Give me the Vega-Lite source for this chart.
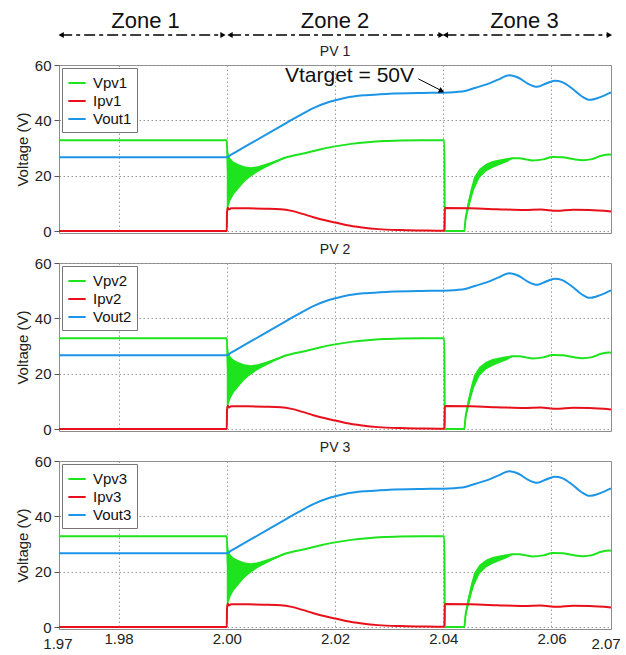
{
  "$schema": "https://vega.github.io/schema/vega-lite/v6.json",
  "padding": {"left": 14, "top": 0, "right": 8, "bottom": 2},
  "bounds": "flush",
  "spacing": 30,
  "config": {
    "font": "Liberation Sans",
    "view": {"stroke": "#8c8c8c", "strokeWidth": 1},
    "axis": {"labelFont": "Liberation Sans", "labelFontSize": 15, "labelColor": "#222", "titleFont": "Liberation Sans", "titleFontSize": 15, "titleFontWeight": "normal", "titleColor": "#222", "gridColor": "#9a9a9a", "gridDash": [1.5, 2.5], "gridWidth": 1, "domain": false},
    "title": {"fontSize": 14, "fontWeight": "normal", "font": "Liberation Sans", "color": "#222", "offset": -1, "frame": "group"},
    "legend": {"orient": "top-left", "offset": 3, "symbolType": "stroke", "symbolSize": 300, "symbolStrokeWidth": 2, "labelFontSize": 15, "labelFont": "Liberation Sans", "labelColor": "#111", "rowPadding": 0, "padding": 5, "strokeColor": "#777", "fillColor": "white", "labelOffset": 6, "cornerRadius": 0}
  },
  "resolve": {"scale": {"x": "independent", "y": "independent", "color": "independent"}, "legend": {"color": "independent"}},
  "datasets": {
    "zones": [
      {"zone": "Zone 1", "mid": 1.985, "start": 1.9694, "end": 1.9993},
      {"zone": "Zone 2", "mid": 2.020, "start": 2.0006, "end": 2.0396},
      {"zone": "Zone 3", "mid": 2.055, "start": 2.0404, "end": 2.0707}
    ],
    "band": [
      {"seg": "a", "t": 2.0000, "lo": 7.5, "hi": 32.8},
      {"seg": "a", "t": 2.0003, "lo": 8.7, "hi": 28.0},
      {"seg": "a", "t": 2.0007, "lo": 11.0, "hi": 26.1},
      {"seg": "a", "t": 2.0013, "lo": 13.2, "hi": 25.0},
      {"seg": "a", "t": 2.0020, "lo": 14.8, "hi": 24.3},
      {"seg": "a", "t": 2.0032, "lo": 17.6, "hi": 23.4},
      {"seg": "a", "t": 2.0044, "lo": 19.6, "hi": 23.1},
      {"seg": "a", "t": 2.0057, "lo": 21.3, "hi": 23.4},
      {"seg": "a", "t": 2.0069, "lo": 22.6, "hi": 24.1},
      {"seg": "a", "t": 2.0081, "lo": 23.8, "hi": 24.9},
      {"seg": "a", "t": 2.0094, "lo": 25.0, "hi": 25.8},
      {"seg": "a", "t": 2.0106, "lo": 26.1, "hi": 26.7},
      {"seg": "a", "t": 2.0120, "lo": 27.0, "hi": 27.2},
      {"seg": "b", "t": 2.0439, "lo": 0.0, "hi": 0.6},
      {"seg": "b", "t": 2.0441, "lo": 2.9, "hi": 5.1},
      {"seg": "b", "t": 2.0445, "lo": 6.3, "hi": 9.9},
      {"seg": "b", "t": 2.0451, "lo": 10.9, "hi": 15.3},
      {"seg": "b", "t": 2.0457, "lo": 14.9, "hi": 19.5},
      {"seg": "b", "t": 2.0467, "lo": 19.2, "hi": 22.5},
      {"seg": "b", "t": 2.0479, "lo": 21.5, "hi": 24.3},
      {"seg": "b", "t": 2.0491, "lo": 22.8, "hi": 25.3},
      {"seg": "b", "t": 2.0504, "lo": 23.9, "hi": 25.9},
      {"seg": "b", "t": 2.0516, "lo": 24.8, "hi": 26.3},
      {"seg": "b", "t": 2.0528, "lo": 26.0, "hi": 26.5},
      {"seg": "b", "t": 2.0533, "lo": 26.3, "hi": 26.4}
    ],
    "curves": [
      {"s": "Vpv", "t": 1.969, "v": 32.8},
      {"s": "Vpv", "t": 2.0000, "v": 32.8},
      {"s": "Vpv", "t": 2.0003, "v": 18.4},
      {"s": "Vpv", "t": 2.0007, "v": 18.6},
      {"s": "Vpv", "t": 2.0013, "v": 19.1},
      {"s": "Vpv", "t": 2.0020, "v": 19.6},
      {"s": "Vpv", "t": 2.0032, "v": 20.5},
      {"s": "Vpv", "t": 2.0044, "v": 21.4},
      {"s": "Vpv", "t": 2.0057, "v": 22.4},
      {"s": "Vpv", "t": 2.0069, "v": 23.4},
      {"s": "Vpv", "t": 2.0081, "v": 24.4},
      {"s": "Vpv", "t": 2.0094, "v": 25.4},
      {"s": "Vpv", "t": 2.0106, "v": 26.4},
      {"s": "Vpv", "t": 2.0120, "v": 27.1},
      {"s": "Vpv", "t": 2.0144, "v": 28.1},
      {"s": "Vpv", "t": 2.0170, "v": 29.4},
      {"s": "Vpv", "t": 2.0200, "v": 30.6},
      {"s": "Vpv", "t": 2.0230, "v": 31.5},
      {"s": "Vpv", "t": 2.0260, "v": 32.1},
      {"s": "Vpv", "t": 2.0290, "v": 32.5},
      {"s": "Vpv", "t": 2.0320, "v": 32.7},
      {"s": "Vpv", "t": 2.0360, "v": 32.8},
      {"s": "Vpv", "t": 2.0402, "v": 32.8},
      {"s": "Vpv", "t": 2.0403, "v": 0.0},
      {"s": "Vpv", "t": 2.0439, "v": 0.0},
      {"s": "Vpv", "t": 2.0441, "v": 4.0},
      {"s": "Vpv", "t": 2.0445, "v": 8.1},
      {"s": "Vpv", "t": 2.0451, "v": 13.1},
      {"s": "Vpv", "t": 2.0457, "v": 17.2},
      {"s": "Vpv", "t": 2.0467, "v": 20.9},
      {"s": "Vpv", "t": 2.0479, "v": 22.9},
      {"s": "Vpv", "t": 2.0491, "v": 24.1},
      {"s": "Vpv", "t": 2.0504, "v": 25.0},
      {"s": "Vpv", "t": 2.0516, "v": 25.6},
      {"s": "Vpv", "t": 2.0528, "v": 26.3},
      {"s": "Vpv", "t": 2.0541, "v": 26.3},
      {"s": "Vpv", "t": 2.0553, "v": 25.9},
      {"s": "Vpv", "t": 2.0565, "v": 25.5},
      {"s": "Vpv", "t": 2.0585, "v": 25.9},
      {"s": "Vpv", "t": 2.0602, "v": 26.8},
      {"s": "Vpv", "t": 2.0620, "v": 26.7},
      {"s": "Vpv", "t": 2.0640, "v": 26.0},
      {"s": "Vpv", "t": 2.0657, "v": 25.6},
      {"s": "Vpv", "t": 2.0675, "v": 26.0},
      {"s": "Vpv", "t": 2.0692, "v": 27.2},
      {"s": "Vpv", "t": 2.0707, "v": 27.7},
      {"s": "Vpv", "t": 2.0710, "v": 27.6},
      {"s": "Ipv", "t": 1.969, "v": 0.0},
      {"s": "Ipv", "t": 2.0000, "v": 0.0},
      {"s": "Ipv", "t": 2.00005, "v": 7.0},
      {"s": "Ipv", "t": 2.0002, "v": 8.4},
      {"s": "Ipv", "t": 2.0004, "v": 7.8},
      {"s": "Ipv", "t": 2.0008, "v": 8.2},
      {"s": "Ipv", "t": 2.0040, "v": 8.2},
      {"s": "Ipv", "t": 2.0070, "v": 8.1},
      {"s": "Ipv", "t": 2.0100, "v": 7.9},
      {"s": "Ipv", "t": 2.0120, "v": 7.3},
      {"s": "Ipv", "t": 2.0140, "v": 6.2},
      {"s": "Ipv", "t": 2.0160, "v": 5.0},
      {"s": "Ipv", "t": 2.0180, "v": 4.0},
      {"s": "Ipv", "t": 2.0200, "v": 3.1},
      {"s": "Ipv", "t": 2.0220, "v": 2.2},
      {"s": "Ipv", "t": 2.0250, "v": 1.3},
      {"s": "Ipv", "t": 2.0280, "v": 0.7},
      {"s": "Ipv", "t": 2.0320, "v": 0.35},
      {"s": "Ipv", "t": 2.0360, "v": 0.2},
      {"s": "Ipv", "t": 2.0402, "v": 0.1},
      {"s": "Ipv", "t": 2.0403, "v": 8.3},
      {"s": "Ipv", "t": 2.0450, "v": 8.2},
      {"s": "Ipv", "t": 2.0500, "v": 7.9},
      {"s": "Ipv", "t": 2.0550, "v": 7.6},
      {"s": "Ipv", "t": 2.0580, "v": 7.8},
      {"s": "Ipv", "t": 2.0610, "v": 7.3},
      {"s": "Ipv", "t": 2.0640, "v": 7.7},
      {"s": "Ipv", "t": 2.0670, "v": 7.6},
      {"s": "Ipv", "t": 2.0710, "v": 7.1},
      {"s": "Vout", "t": 1.969, "v": 26.7},
      {"s": "Vout", "t": 2.0000, "v": 26.7},
      {"s": "Vout", "t": 2.0008, "v": 27.6},
      {"s": "Vout", "t": 2.0025, "v": 29.5},
      {"s": "Vout", "t": 2.0050, "v": 32.3},
      {"s": "Vout", "t": 2.0075, "v": 35.1},
      {"s": "Vout", "t": 2.0100, "v": 37.9},
      {"s": "Vout", "t": 2.0133, "v": 41.6},
      {"s": "Vout", "t": 2.0160, "v": 44.4},
      {"s": "Vout", "t": 2.0190, "v": 46.7},
      {"s": "Vout", "t": 2.0220, "v": 48.2},
      {"s": "Vout", "t": 2.0257, "v": 49.1},
      {"s": "Vout", "t": 2.0300, "v": 49.6},
      {"s": "Vout", "t": 2.0360, "v": 49.9},
      {"s": "Vout", "t": 2.0400, "v": 50.0},
      {"s": "Vout", "t": 2.0435, "v": 50.4},
      {"s": "Vout", "t": 2.0460, "v": 51.8},
      {"s": "Vout", "t": 2.0480, "v": 53.0},
      {"s": "Vout", "t": 2.0500, "v": 54.6},
      {"s": "Vout", "t": 2.0522, "v": 56.3},
      {"s": "Vout", "t": 2.0540, "v": 55.3},
      {"s": "Vout", "t": 2.0557, "v": 53.2},
      {"s": "Vout", "t": 2.0574, "v": 52.1},
      {"s": "Vout", "t": 2.0590, "v": 53.3},
      {"s": "Vout", "t": 2.0606, "v": 54.3},
      {"s": "Vout", "t": 2.0620, "v": 53.8},
      {"s": "Vout", "t": 2.0638, "v": 51.5},
      {"s": "Vout", "t": 2.0655, "v": 48.8},
      {"s": "Vout", "t": 2.0670, "v": 47.4},
      {"s": "Vout", "t": 2.0690, "v": 48.4},
      {"s": "Vout", "t": 2.0710, "v": 50.1}
    ]
  },
  "vconcat": [
    {
      "width": 552, "height": 35,
      "view": {"stroke": null},
      "data": {"name": "zones"},
      "layer": [
        {"mark": {"type": "text", "fontSize": 22, "font": "Liberation Sans", "baseline": "middle", "color": "#111"},
         "encoding": {"x": {"field": "mid", "type": "quantitative", "scale": {"domain": [1.969, 2.071], "nice": false, "zero": false}, "axis": null},
                      "y": {"datum": 0.41, "type": "quantitative", "scale": {"domain": [0, 1], "nice": false, "zero": false}, "axis": null},
                      "text": {"field": "zone"}}},
        {"mark": {"type": "rule", "strokeDash": [11, 4, 4, 4], "strokeWidth": 1.5, "color": "black"},
         "encoding": {"x": {"field": "start", "type": "quantitative"}, "x2": {"field": "end"}, "y": {"datum": 0, "type": "quantitative"}}},
        {"mark": {"type": "point", "shape": "triangle-left", "filled": true, "color": "black", "size": 38, "opacity": 1},
         "encoding": {"x": {"field": "start", "type": "quantitative"}, "y": {"datum": 0, "type": "quantitative"}}},
        {"mark": {"type": "point", "shape": "triangle-right", "filled": true, "color": "black", "size": 38, "opacity": 1},
         "encoding": {"x": {"field": "end", "type": "quantitative"}, "y": {"datum": 0, "type": "quantitative"}}}
      ]
    },
    {
      "width": 552, "height": 168,
      "title": {"text": "PV 1", "fontSize": 14, "font": "Liberation Sans", "fontWeight": "normal", "offset": -1},
      "layer": [
        {"data": {"name": "band"}, "mark": {"type": "area", "color": "#1de41d", "opacity": 1},
         "encoding": {"x": {"field": "t", "type": "quantitative", "scale": {"domain": [1.969, 2.071], "nice": false, "zero": false},
                            "axis": {"values": [1.98, 2.0, 2.02, 2.04, 2.06], "labels": false, "ticks": false, "title": null, "grid": true}},
                      "y": {"field": "hi", "type": "quantitative", "scale": {"domain": [-0.7, 60], "nice": false},
                            "axis": {"title": "Voltage (V)", "values": [0, 20, 40, 60], "grid": true, "tickSize": 5, "tickColor": "#555", "labelPadding": 3, "titlePadding": 4}},
                      "y2": {"field": "lo"}, "detail": {"field": "seg"}}},
        {"data": {"name": "curves"}, "mark": {"type": "line", "strokeWidth": 2, "interpolate": "monotone"},
         "encoding": {"x": {"field": "t", "type": "quantitative"}, "y": {"field": "v", "type": "quantitative"},
                      "color": {"field": "s", "type": "nominal", "scale": {"domain": ["Vpv", "Ipv", "Vout"], "range": ["#1de41d", "#e8101a", "#1c95e6"]},
                                "legend": {"title": null, "labelExpr": "datum.label + '1'"}}}},
        {"data": {"values": [{"t": 2.0346, "v": 56.0, "label": "Vtarget = 50V"}]},
         "mark": {"type": "text", "align": "right", "baseline": "middle", "fontSize": 21, "font": "Liberation Sans", "color": "#111"},
         "encoding": {"x": {"field": "t", "type": "quantitative"}, "y": {"field": "v", "type": "quantitative"}, "text": {"field": "label"}}},
        {"data": {"values": [{"t": 2.0354, "v": 55.0, "t2": 2.0395, "v2": 50.9}]},
         "mark": {"type": "rule", "strokeWidth": 1, "color": "black"},
         "encoding": {"x": {"field": "t", "type": "quantitative"}, "y": {"field": "v", "type": "quantitative"}, "x2": {"field": "t2"}, "y2": {"field": "v2"}}},
        {"data": {"values": [{"t": 2.0397, "v": 50.6}]},
         "mark": {"type": "point", "shape": "triangle-right", "angle": 26, "filled": true, "color": "black", "size": 40, "opacity": 1},
         "encoding": {"x": {"field": "t", "type": "quantitative"}, "y": {"field": "v", "type": "quantitative"}}}
      ]
    },
    {
      "width": 552, "height": 168,
      "title": {"text": "PV 2", "fontSize": 14, "font": "Liberation Sans", "fontWeight": "normal", "offset": -1},
      "layer": [
        {"data": {"name": "band"}, "mark": {"type": "area", "color": "#1de41d", "opacity": 1},
         "encoding": {"x": {"field": "t", "type": "quantitative", "scale": {"domain": [1.969, 2.071], "nice": false, "zero": false},
                            "axis": {"values": [1.98, 2.0, 2.02, 2.04, 2.06], "labels": false, "ticks": false, "title": null, "grid": true}},
                      "y": {"field": "hi", "type": "quantitative", "scale": {"domain": [-0.7, 60], "nice": false},
                            "axis": {"title": "Voltage (V)", "values": [0, 20, 40, 60], "grid": true, "tickSize": 5, "tickColor": "#555", "labelPadding": 3, "titlePadding": 4}},
                      "y2": {"field": "lo"}, "detail": {"field": "seg"}}},
        {"data": {"name": "curves"}, "mark": {"type": "line", "strokeWidth": 2, "interpolate": "monotone"},
         "encoding": {"x": {"field": "t", "type": "quantitative"}, "y": {"field": "v", "type": "quantitative"},
                      "color": {"field": "s", "type": "nominal", "scale": {"domain": ["Vpv", "Ipv", "Vout"], "range": ["#1de41d", "#e8101a", "#1c95e6"]},
                                "legend": {"title": null, "labelExpr": "datum.label + '2'"}}}}
      ]
    },
    {
      "width": 552, "height": 168,
      "title": {"text": "PV 3", "fontSize": 14, "font": "Liberation Sans", "fontWeight": "normal", "offset": -1},
      "layer": [
        {"data": {"name": "band"}, "mark": {"type": "area", "color": "#1de41d", "opacity": 1},
         "encoding": {"x": {"field": "t", "type": "quantitative", "scale": {"domain": [1.969, 2.071], "nice": false, "zero": false},
                            "axis": {"values": [1.97, 1.98, 2.0, 2.02, 2.04, 2.06, 2.07], "format": ".2f", "labels": true, "ticks": false, "title": null, "grid": true,
                                     "gridOpacity": {"condition": {"test": "datum.value < 1.975 || datum.value > 2.065", "value": 0}, "value": 1},
                                     "labelOffset": {"condition": {"test": "datum.value < 1.975", "value": -7}, "value": 0},
                                     "labelPadding": {"condition": {"test": "datum.value < 1.975 || datum.value > 2.065", "value": 7}, "value": 2}}},
                      "y": {"field": "hi", "type": "quantitative", "scale": {"domain": [-0.7, 60], "nice": false},
                            "axis": {"title": "Voltage (V)", "values": [0, 20, 40, 60], "grid": true, "tickSize": 5, "tickColor": "#555", "labelPadding": 3, "titlePadding": 4}},
                      "y2": {"field": "lo"}, "detail": {"field": "seg"}}},
        {"data": {"name": "curves"}, "mark": {"type": "line", "strokeWidth": 2, "interpolate": "monotone"},
         "encoding": {"x": {"field": "t", "type": "quantitative"}, "y": {"field": "v", "type": "quantitative"},
                      "color": {"field": "s", "type": "nominal", "scale": {"domain": ["Vpv", "Ipv", "Vout"], "range": ["#1de41d", "#e8101a", "#1c95e6"]},
                                "legend": {"title": null, "labelExpr": "datum.label + '3'"}}}}
      ]
    }
  ]
}
